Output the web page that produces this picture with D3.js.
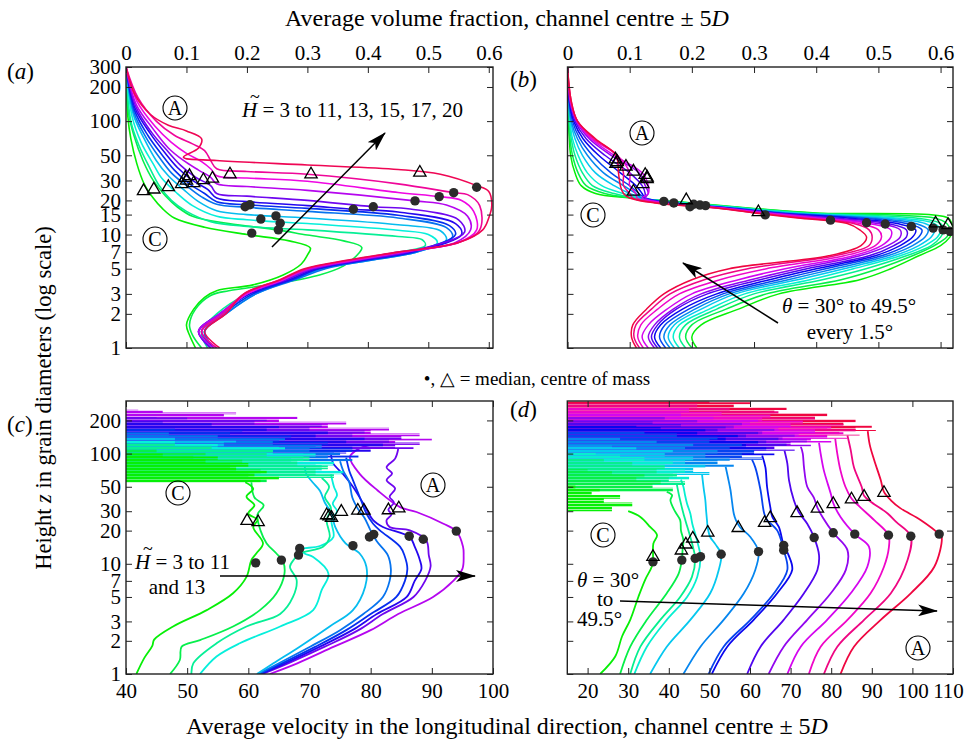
<!DOCTYPE html>
<html>
<head>
<meta charset="utf-8">
<script src="https://cdn.jsdelivr.net/npm/d3@7"></script>
<style>
  body { margin: 0; background: #fff; }
</style>
</head>
<body>
<svg id="fig" width="966" height="741"></svg>
<script>
// ---------- data ----------
// (a) volume fraction vs height, H~ = 3..11,13,15,17,20   points are [phi, z]
var aH = [3, 4, 5, 6, 7, 8, 9, 10, 11, 13, 15, 17, 20];
var aProfiles = [
  [[0.115,1],[0.105,1.3],[0.1,1.6],[0.112,2.2],[0.13,2.8],[0.15,3.2],[0.21,3.6],[0.26,4.4],[0.29,5.5],[0.3,6.6],[0.305,7.6],[0.27,8.8],[0.2,10],[0.13,11.6],[0.08,14],[0.06,17],[0.045,21],[0.03,28],[0.018,42],[0.008,70],[0.003,110],[0,300]],
  [[0.125,1],[0.11,1.3],[0.105,1.6],[0.115,2.2],[0.14,2.9],[0.17,3.2],[0.25,3.7],[0.32,4.4],[0.36,5.3],[0.38,6.4],[0.39,7.7],[0.36,8.8],[0.3,9.9],[0.25,11],[0.17,12.5],[0.11,14.5],[0.085,17.5],[0.065,22],[0.045,30],[0.028,45],[0.013,75],[0.004,120],[0,300]],
  [[0.135,1],[0.125,1.4],[0.15,2],[0.2,3],[0.26,4],[0.31,5],[0.38,6],[0.45,7],[0.495,8],[0.49,9],[0.45,9.6],[0.3,11],[0.2,11.8],[0.14,13],[0.1,16],[0.075,20],[0.055,27],[0.04,38],[0.022,60],[0.008,100],[0,300]],
  [[0.14,1],[0.13,1.4],[0.16,2],[0.21,3],[0.27,4],[0.32,5],[0.4,6],[0.47,7],[0.515,8.5],[0.5,10],[0.45,10.9],[0.3,12.5],[0.2,13.5],[0.15,14.5],[0.11,18],[0.085,23],[0.06,31],[0.045,42],[0.025,65],[0.01,110],[0,300]],
  [[0.145,1],[0.13,1.4],[0.165,2],[0.215,3],[0.275,4],[0.325,5],[0.41,6],[0.48,7],[0.53,9],[0.52,10.8],[0.45,12.2],[0.3,14],[0.2,15],[0.15,16.2],[0.12,19.5],[0.095,25],[0.07,33],[0.05,45],[0.03,70],[0.012,115],[0,300]],
  [[0.145,1],[0.13,1.4],[0.165,2],[0.215,3],[0.28,4],[0.33,5],[0.41,6],[0.48,7],[0.54,9.5],[0.53,11.5],[0.45,14],[0.3,16],[0.2,17.4],[0.15,18.5],[0.125,21.5],[0.1,27],[0.075,35],[0.055,48],[0.033,72],[0.013,120],[0,300]],
  [[0.145,1],[0.125,1.4],[0.16,2],[0.21,3],[0.275,4],[0.32,5],[0.4,6],[0.475,7],[0.545,10],[0.535,12],[0.45,14.8],[0.3,17],[0.2,18.3],[0.15,19.5],[0.13,23],[0.105,28],[0.08,37],[0.06,50],[0.036,75],[0.014,125],[0,300]],
  [[0.14,1],[0.12,1.4],[0.155,2],[0.205,3],[0.27,4],[0.315,5],[0.395,6],[0.47,7],[0.555,10],[0.545,12.5],[0.45,15.8],[0.376,16.7],[0.3,18],[0.2,19.5],[0.15,21],[0.135,25],[0.11,30],[0.085,39],[0.065,52],[0.04,78],[0.015,130],[0,300]],
  [[0.14,1],[0.12,1.4],[0.155,2],[0.2,3],[0.265,4],[0.31,5],[0.39,6],[0.465,7],[0.56,10.5],[0.55,13.5],[0.47,16.8],[0.409,17.6],[0.3,20],[0.2,21.8],[0.15,23],[0.14,27],[0.115,32],[0.09,41],[0.068,55],[0.042,80],[0.016,135],[0,300]],
  [[0.145,1],[0.12,1.4],[0.155,2],[0.2,3],[0.26,4],[0.305,5],[0.385,6],[0.46,7],[0.545,8.5],[0.57,11],[0.565,14.5],[0.53,18.2],[0.478,19.8],[0.3,24.5],[0.2,26.5],[0.15,28],[0.14,32],[0.12,37],[0.095,45],[0.07,58],[0.045,85],[0.017,140],[0,300]],
  [[0.15,1],[0.125,1.4],[0.16,2],[0.2,3],[0.26,4],[0.3,5],[0.38,6],[0.455,7],[0.55,8.5],[0.58,11],[0.575,16],[0.555,20],[0.518,21.6],[0.45,23.5],[0.3,29.5],[0.2,31.5],[0.15,33],[0.14,38],[0.125,44],[0.1,52],[0.075,65],[0.048,90],[0.018,150],[0,300]],
  [[0.15,1],[0.125,1.4],[0.16,2],[0.195,3],[0.255,4],[0.3,5],[0.375,6],[0.45,7],[0.55,8.5],[0.585,11],[0.585,18],[0.565,22.5],[0.542,23.4],[0.45,28],[0.3,34],[0.2,36],[0.15,38],[0.14,45],[0.13,55],[0.11,63],[0.08,75],[0.05,100],[0.02,160],[0,300]],
  [[0.155,1],[0.13,1.4],[0.165,2],[0.195,3],[0.255,4],[0.295,5],[0.37,6],[0.45,7],[0.55,8.5],[0.59,11],[0.6,14],[0.605,18],[0.6,24],[0.58,27],[0.52,34],[0.45,37.5],[0.3,41],[0.15,45],[0.095,48],[0.12,58],[0.125,70],[0.1,82],[0.07,92],[0.04,115],[0.015,170],[0,300]]
];
var aMedian = [[0.208,10.3],[0.252,11.0],[0.255,12.6],[0.223,13.7],[0.248,14.6],[0.376,16.7],[0.197,17.6],[0.409,17.6],[0.205,18.3],[0.478,19.8],[0.518,21.6],[0.542,23.4],[0.58,26.1]];
var aCentre = [[0.029,24.7],[0.046,25.5],[0.07,26.8],[0.092,28.4],[0.098,32.3],[0.105,33.5],[0.1,30.5],[0.112,29.0],[0.128,30.8],[0.143,31.8],[0.172,34.6],[0.306,34.6],[0.486,35.9]];

// (b) volume fraction vs height, theta = 30..49.5 every 1.5; one row per height level, one column per angle
var bTheta = [30, 31.5, 33, 34.5, 36, 37.5, 39, 40.5, 42, 43.5, 45, 46.5, 48, 49.5];
var bZ = [1, 1.25, 1.6, 2.2, 3, 4, 5, 6.5, 8, 9.5, 11, 12.5, 14, 15.5, 17, 19, 21, 23, 27, 35, 50, 70, 100, 150, 300];
var bRows = [
  [.208,.2,.19,.18,.172,.165,.158,.15,.145,.14,.13,.122,.116,.111],
  [.2,.19,.18,.17,.162,.155,.148,.14,.135,.13,.12,.113,.107,.103],
  [.215,.2,.19,.18,.172,.165,.157,.15,.145,.14,.13,.118,.11,.105],
  [.275,.255,.24,.228,.215,.205,.195,.185,.175,.17,.16,.145,.135,.127],
  [.34,.32,.3,.285,.27,.26,.25,.24,.225,.215,.2,.18,.165,.155],
  [.47,.44,.41,.39,.37,.355,.34,.325,.31,.295,.275,.245,.22,.2],
  [.52,.5,.48,.46,.445,.43,.415,.4,.385,.37,.35,.32,.29,.26],
  [.565,.555,.545,.535,.525,.515,.505,.495,.485,.47,.46,.445,.43,.42],
  [.6,.59,.585,.575,.565,.555,.545,.535,.525,.515,.505,.495,.485,.472],
  [.615,.61,.6,.595,.585,.575,.565,.555,.545,.535,.52,.505,.49,.481],
  [.62,.615,.605,.6,.59,.58,.57,.56,.545,.535,.52,.5,.485,.47],
  [.618,.61,.6,.59,.575,.56,.545,.53,.515,.5,.485,.47,.46,.45],
  [.612,.59,.56,.53,.51,.49,.47,.45,.43,.415,.4,.39,.38,.37],
  [.4,.39,.38,.37,.36,.35,.34,.335,.33,.325,.32,.31,.305,.3],
  [.3,.295,.29,.285,.28,.275,.27,.265,.26,.258,.255,.252,.248,.245],
  [.2,.195,.19,.185,.18,.175,.17,.165,.16,.158,.155,.15,.145,.14],
  [.1,.105,.11,.115,.12,.12,.125,.125,.125,.125,.12,.112,.105,.1],
  [.045,.06,.075,.09,.1,.11,.115,.12,.125,.13,.13,.11,.1,.09],
  [.022,.03,.04,.055,.075,.09,.1,.11,.12,.125,.13,.1,.09,.085],
  [.012,.017,.024,.032,.045,.058,.07,.085,.1,.115,.12,.1,.09,.082],
  [.005,.008,.012,.017,.024,.032,.04,.05,.06,.07,.075,.08,.08,.078],
  [.003,.004,.006,.008,.012,.016,.02,.025,.03,.035,.038,.04,.043,.045],
  [.0015,.002,.003,.004,.005,.006,.008,.01,.012,.014,.015,.016,.016,.016],
  [.0005,.001,.001,.0015,.002,.002,.003,.003,.004,.004,.005,.005,.006,.006],
  [0,0,0,0,0,0,0,0,0,0,0,0,0,0]
];
var bMedian = [[0.155,19.6],[0.171,19.0],[0.197,17.6],[0.203,18.5],[0.213,18.2],[0.222,18.0],[0.318,14.9],[0.423,13.4],[0.481,12.7],[0.511,12.4],[0.553,11.8],[0.588,11.4],[0.604,11.0],[0.615,10.7]];
var bCentre = [[0.077,47],[0.078,43],[0.08,44.5],[0.094,40.5],[0.106,36.7],[0.125,34.3],[0.128,31.5],[0.128,32.5],[0.121,28.5],[0.106,24.4],[0.191,20.5],[0.307,16.1],[0.592,12.8],[0.612,12.4]];

// (c) velocity vs height, H~ = 3..11 and 13   points are [u, z]; above cFuzz the profile flickers
var cH = [3, 4, 5, 6, 7, 8, 9, 10, 11, 13];
var cFuzz = [55, 55, 60, 65, 78, 85, 92, 100, 110, 120];
var cProfiles = [
  [[41.7,1],[43,1.4],[44.3,1.8],[44.6,2.05],[47.7,2.7],[53.2,3.8],[57.5,5.4],[59.7,7.6],[60.5,10.8],[61.3,12.4],[62.4,15.3],[60.8,21.6],[61.5,25],[60,28.6],[61,34],[59.7,40.6],[60.8,48],[59.5,55],[62,58],[65,62],[61,66],[63,70],[58,76],[60,82],[53,88],[55,94],[46,100]],
  [[47.2,1],[48.8,1.34],[49.1,1.77],[52.1,2.03],[57.5,2.7],[61.9,3.8],[64.6,5.4],[65.9,8.1],[65.7,10.4],[64.6,12.4],[63,15.3],[62,20],[61.5,28],[62.5,34],[61,40],[60.5,55],[63,60],[60,66],[62,72],[57,80],[59,88],[51,96],[53,102],[45,110]],
  [[50.7,1],[51,1.25],[54.8,1.9],[59.7,2.7],[65.2,3.5],[67.3,5],[67.9,7.1],[66.8,9.4],[67.5,11],[68.4,12.4],[72.2,14.3],[73.3,17.5],[72.8,24.9],[73.5,32],[72.5,40.6],[73.2,50],[72,60],[74,65],[71,72],[73,78],[68,86],[70,94],[63,102],[64,110],[54,118],[48,124]],
  [[52.1,1],[54.8,1.44],[58.6,1.9],[65.2,2.7],[70.6,3.8],[72,5.8],[73.1,8.1],[70.6,11.5],[69.2,12.4],[68.6,13.5],[71.7,14.5],[73.9,17.5],[73.6,24.9],[74.5,30],[73.8,35],[74.5,42],[74,50],[73.5,65],[75.5,70],[72,78],[74,85],[69,94],[71,100],[64,108],[66,114],[55,122],[48,130]],
  [[61.4,1],[64.1,1.25],[68.4,1.77],[73.3,2.7],[77.1,3.8],[79.1,6.2],[79.3,9.4],[78.2,12.4],[75.9,15.3],[74.2,21.6],[73.6,28.6],[72.5,36],[71.7,46],[70.5,55],[69.5,65],[69.2,78],[71,84],[67,92],[69,100],[63,108],[65,116],[56,126],[58,132],[48,140]],
  [[61.6,1],[65,1.25],[70.1,1.77],[75,2.5],[78.8,3.5],[82,5],[83.1,7],[83.3,9],[82.8,12],[81,16],[80,20],[79,26],[78,31],[77,40],[76.5,55],[75.5,70],[75,85],[77,90],[73,97],[75,104],[70,112],[72,120],[64,130],[66,138],[55,147],[47,155]],
  [[61.8,1],[65.5,1.25],[71,1.77],[76,2.5],[80,3.5],[84.2,5],[85.6,7],[86,9],[85.5,12],[84.8,14.3],[81.5,20.1],[80.4,23.1],[79.3,28.6],[78.2,40.6],[77.1,57.5],[76.5,70],[76,92],[78,97],[74,104],[77,112],[71,120],[73,128],[65,138],[67,146],[57,156],[59,162],[48,170]],
  [[62,1],[66,1.25],[71.7,1.77],[77,2.5],[81,3.5],[85.9,5],[87.2,7],[88.3,9],[88,11],[87.2,14.3],[86.4,17.5],[82,21.6],[80.4,24.9],[78.8,35.2],[77.1,50],[75.5,65],[73.9,81],[73.5,100],[76,104],[80,110],[77,116],[82,124],[76,132],[79,140],[71,150],[73,160],[63,170],[65,178],[54,188],[46,195]],
  [[62.3,1],[66.5,1.25],[72.5,1.77],[78,2.5],[82,3.5],[87,5],[88.9,7],[89.8,9.5],[89.5,12],[89.1,16.3],[86.4,20.1],[83.1,21.6],[82.6,24.9],[83.4,28],[82.9,31],[83.8,36],[83.1,40.6],[84,48],[82.6,57.5],[83.5,66],[82.6,75],[84,90],[84.5,110],[87,114],[84,120],[88,126],[83,134],[85,142],[77,152],[79,162],[70,174],[72,184],[61,196],[63,204],[50,212],[45,215]],
  [[63.5,1],[68,1.25],[74,1.77],[80,2.5],[84.5,3.5],[90.2,5],[93.5,7],[95,9],[95.2,12],[95.1,14.3],[94,19.8],[91.9,23.1],[87.5,29.5],[84.8,32.7],[81.1,46.5],[78.2,65.5],[76.6,93],[78,110],[80,120],[88,124],[84,130],[90,136],[85,144],[88,152],[80,162],[83,172],[73,184],[76,194],[65,206],[68,216],[56,228],[58,236],[46,246],[42,250]]
];
var cMedian = [[61.2,10.2],[65.4,10.8],[68.2,12.0],[68.4,13.8],[77.1,14.6],[79.8,17.5],[80.5,18.5],[86.3,17.8],[88.6,16.7],[94,19.8]];
var cCentre = [[59.8,25.1],[61.6,24.4],[72.8,28.2],[73.2,27.5],[73.6,26.7],[75.2,30.3],[77.9,31.0],[78.9,31.0],[82.9,31.3],[84.6,32.5]];

// (d) velocity vs height, theta = 30..49.5 every 1.5
var dTheta = [30, 31.5, 33, 34.5, 36, 37.5, 39, 40.5, 42, 43.5, 45, 46.5, 48, 49.5];
var dFuzz = [30, 45, 52, 58, 64, 76, 88, 96, 106, 116, 126, 136, 146, 160];
var dProfiles = [
  [[23.1,1],[26.8,1.44],[28.5,2.2],[30.5,3.1],[32.5,5],[34.2,7.2],[35.8,9.4],[36.1,11],[36.2,15.3],[37.1,18.2],[35.4,21.6],[33,26.6],[30,30],[26,33],[31,36],[24,39],[28,42],[21,45],[23,48],[17,52]],
  [[28,1],[30.5,1.77],[34.6,3.1],[39.5,5.4],[42.4,8.1],[43.2,10.8],[43.4,13.5],[43.6,16.3],[43,20],[42.8,24.9],[41.5,30],[40.4,37.7],[40.8,42],[39.5,45],[41,49],[36,53],[38,57],[32,61],[34,65],[26,69],[20,72]],
  [[30.5,1],[33,1.77],[37.9,3.1],[42.8,5],[45.7,7.6],[46.5,11.2],[46,14],[45.3,17.5],[44.5,22],[43.6,28.6],[43,35],[42.5,42],[42,52],[44,56],[40,61],[42,66],[37,72],[39,78],[31,84],[24,90]],
  [[31.5,1],[34.6,1.77],[39.5,3.1],[44.5,5],[47,7.6],[47.8,11.6],[47.2,15],[46.5,18.7],[45.8,23],[45.3,28.6],[44.5,35],[44,42],[43.6,50],[43,58],[45,62],[41,67],[44,73],[39,80],[41,86],[34,93],[28,98],[22,102]],
  [[35.4,1],[39.5,1.77],[45.3,3.1],[50.2,5.4],[52.3,8.8],[52.9,12.2],[51.5,15],[50.2,17.5],[49.6,21],[49.4,24.9],[49.2,30],[49,37.7],[48.6,48],[48.2,64],[50,68],[46,74],[49,80],[44,87],[46,94],[39,102],[41,108],[32,114],[26,118]],
  [[43.6,1],[47.8,1.77],[53.5,3.1],[58.5,5.4],[61.3,8.8],[62.1,12.9],[60.1,17.5],[57.5,21.6],[56.5,25],[56,28.6],[55.6,36],[55.2,46.5],[54.6,60],[54,76],[56,80],[52,86],[55,92],[49,100],[52,108],[44,116],[46,124],[37,132],[28,140]],
  [[49.8,1],[53.5,1.77],[60.1,3.1],[65.9,5.4],[69.2,8.8],[68.3,13.3],[66.7,20.1],[64.2,25],[63.5,28.6],[62.6,46.5],[61.3,75],[60.5,88],[63,92],[58,100],[61,108],[55,116],[58,124],[50,134],[52,142],[42,152],[34,160]],
  [[50.6,1],[54.4,1.77],[60.9,3.1],[66.7,5.4],[70.4,8.8],[69.5,12],[68.3,14.7],[67.1,21.6],[65.5,26.6],[65,32.7],[64.2,50],[63.8,75],[63,96],[66,100],[61,107],[64,114],[59,122],[62,130],[54,140],[57,148],[47,158],[49,166],[38,174],[32,180]],
  [[59.3,1],[62.6,1.77],[68.3,3.1],[73.3,5.4],[76.6,8.8],[77,12],[75.8,17.3],[74.1,23.1],[72,29.5],[70.8,37.7],[69.6,57.5],[69.2,81],[68.5,106],[71,110],[66,117],[69,124],[64,132],[67,140],[59,150],[62,158],[52,168],[54,176],[43,186],[36,195]],
  [[64.6,1],[68.3,1.77],[74.1,3.1],[79.9,5.4],[83.6,8.8],[84,13.3],[80.5,19.1],[78,26],[76.6,32.4],[75.7,40],[74.1,50],[73.3,75],[73,100],[72.5,116],[75,120],[70,127],[74,134],[68,142],[71,150],[63,160],[66,168],[56,180],[58,190],[47,202],[39,215]],
  [[69.2,1],[72.5,1.77],[79,3.1],[84.8,5.4],[88.9,9.4],[89.3,14.3],[85.8,18.6],[82.3,26.6],[80.5,35.6],[79.9,43.2],[78.2,70],[77.4,100],[77,126],[80,130],[75,137],[79,144],[72,153],[76,162],[67,173],[70,182],[60,194],[62,204],[51,216],[43,235]],
  [[74.5,1],[77.4,1.77],[84,3.1],[89.7,5.4],[93,9.4],[94.2,14],[94.1,18.2],[90.6,24.9],[87,33],[85,39.2],[83.5,50],[82.3,70],[81.5,100],[81,136],[84,140],[79,148],[83,156],[76,166],[80,176],[70,188],[73,198],[63,212],[65,224],[53,238],[45,260]],
  [[78.2,1],[81.5,1.77],[88.1,3.1],[94.7,5.4],[98.8,10.8],[99.6,17.8],[96,24],[93.9,28.6],[90,36],[88.1,41.4],[87.5,50],[85.6,75],[84.8,108],[84,146],[87,150],[82,158],[86,166],[79,176],[83,186],[73,200],[76,212],[65,228],[67,242],[55,260],[47,285]],
  [[82.3,1],[85.6,1.77],[92.2,3.1],[99.6,5.4],[105.4,9.4],[107.2,17.5],[106.6,18.6],[102.1,24.9],[97,32],[94.7,37.7],[93,44.9],[92.2,57.5],[90.6,87],[89.5,120],[89,160],[91,164],[86,172],[90,180],[83,192],[86,204],[76,218],[79,232],[66,248],[69,262],[56,280],[60,292],[50,300]]
];
var dMedian = [[36.1,10.4],[43.2,10.8],[46.5,11.2],[47.8,11.6],[52.9,12.2],[62.1,12.9],[68.3,13.3],[68.3,14.7],[75.8,17.3],[80.5,19.1],[85.8,18.6],[94.1,18.2],[99.6,17.8],[106.6,18.6]];
var dCentre = [[36.1,11.8],[43.1,13.5],[44.2,15.3],[45.9,17.3],[49.6,19.6],[57.1,21.6],[63.6,24.0],[65,26.6],[71.6,29.5],[76.6,32.4],[80.5,35.6],[85,39.2],[88.1,41.4],[93,44.9]];

// tick values
var phiTicks = [0, 0.1, 0.2, 0.3, 0.4, 0.5, 0.6];
var zTicksTop = [1, 2, 3, 5, 7, 10, 15, 20, 30, 50, 100, 200, 300];
var zTicksBottom = [1, 2, 3, 5, 7, 10, 20, 30, 50, 100, 200];
var uTicksC = [40, 50, 60, 70, 80, 90, 100];
var uTicksD = [20, 30, 40, 50, 60, 70, 80, 90, 100, 110];
var uTicksDTop = [20, 40, 60, 80, 100];

// ---------- drawing ----------
var serif = '"Liberation Serif","Times New Roman",serif';
var svg = d3.select('#fig').attr('font-family', serif);
var defs = svg.append('defs');

defs.append('marker').attr('id', 'arrow')
  .attr('viewBox', '0 0 20 12').attr('refX', 19).attr('refY', 6)
  .attr('markerWidth', 20).attr('markerHeight', 12)
  .attr('markerUnits', 'userSpaceOnUse').attr('orient', 'auto')
  .attr('preserveAspectRatio', 'none')
  .append('path').attr('d', 'M0,0 L20,6 L0,12 L5,6 Z').attr('fill', '#000');

// horizontal streaks for the flickering surface layer
defs.append('pattern').attr('id', 'streaks').attr('patternUnits', 'userSpaceOnUse')
  .attr('width', 8).attr('height', 3)
  .append('rect').attr('width', 8).attr('height', 2.4).attr('fill', '#fff');
defs.append('mask').attr('id', 'streakMask').attr('maskUnits', 'userSpaceOnUse')
  .attr('x', 0).attr('y', 0).attr('width', 966).attr('height', 741)
  .append('rect').attr('width', 966).attr('height', 741).attr('fill', 'url(#streaks)');

// hue runs green -> cyan -> blue -> purple -> pink
var hue13 = [120, 138, 157, 175, 193, 212, 230, 248, 267, 285, 303, 322, 340];
var hue14 = [120, 137, 155, 172, 190, 207, 224, 241, 259, 276, 293, 310, 328, 345];
function col(h) { return d3.hsl(h, 0.95, 0.48).formatHex(); }

// scales
var xa = d3.scaleLinear().domain([0, 0.607]).range([126, 493]);
var xb = d3.scaleLinear().domain([0, 0.62]).range([567.5, 953]);
var xc = d3.scaleLinear().domain([40, 100]).range([126, 493]);
var xd = d3.scaleLinear().domain([15, 110]).range([567.3, 953]);
var yTop = d3.scaleLog().domain([1, 300]).range([348, 67]);
var yBot = d3.scaleLog().domain([1, 300]).range([674, 401]);

function clip(id, x, y) {
  defs.append('clipPath').attr('id', id).append('rect')
    .attr('x', x.range()[0]).attr('y', y.range()[1])
    .attr('width', x.range()[1] - x.range()[0])
    .attr('height', y.range()[0] - y.range()[1]);
  return svg.append('g').attr('clip-path', 'url(#' + id + ')');
}

function frame(x, y, o) {
  var g = svg.append('g');
  var x0 = x.range()[0], x1 = x.range()[1], yT = y.range()[1], yB = y.range()[0];
  var fmt = o.xFmt || function(d) { return d; };
  g.append('g').attr('transform', 'translate(0,' + yT + ')')
    .call(d3.axisTop(x).tickValues(o.xTop).tickSize(-6).tickPadding(7).tickFormat(o.topLab ? fmt : ''));
  g.append('g').attr('class', 'xbot').attr('transform', 'translate(0,' + yB + ')')
    .call(d3.axisBottom(x).tickValues(o.xBottom).tickSize(-6).tickPadding(9).tickFormat(o.botLab ? fmt : ''));
  g.append('g').attr('transform', 'translate(' + x0 + ',0)')
    .call(d3.axisLeft(y).tickValues(o.yTicks).tickSize(-6).tickPadding(5).tickFormat(o.leftLab ? d3.format('d') : ''));
  g.append('g').attr('transform', 'translate(' + x1 + ',0)')
    .call(d3.axisRight(y).tickValues(o.yTicks).tickSize(-6).tickFormat(''));
  g.selectAll('.domain').remove();
  g.selectAll('g').attr('font-family', serif).attr('font-size', 21);
  g.selectAll('.tick line').attr('stroke', '#222').attr('stroke-width', 1);
  g.selectAll('.tick text').attr('fill', '#000').attr('font-size', 21).attr('font-family', serif);
  g.append('rect').attr('x', x0).attr('y', yT).attr('width', x1 - x0).attr('height', yB - yT)
    .attr('fill', 'none').attr('stroke', '#222').attr('stroke-width', 1.4);
  return g;
}

var smooth = d3.curveCatmullRom.alpha(0.5);

function markers(g, x, y, med, cen) {
  g.selectAll('circle.med').data(med).enter().append('circle')
    .attr('cx', function(d) { return x(d[0]); }).attr('cy', function(d) { return y(d[1]); })
    .attr('r', 4.7).attr('fill', '#2b2b2b');
  g.selectAll('path.cen').data(cen).enter().append('path')
    .attr('d', d3.symbol(d3.symbolTriangle, 66))
    .attr('transform', function(d) { return 'translate(' + x(d[0]) + ',' + (y(d[1]) + 1) + ')'; })
    .attr('fill', 'none').attr('stroke', '#000').attr('stroke-width', 1.3);
}

// panel (a)
var ga = clip('clipA', xa, yTop);
var lineA = d3.line().x(function(d) { return xa(d[0]); }).y(function(d) { return yTop(d[1]); }).curve(smooth);
ga.selectAll('path.prof').data(aProfiles).enter().append('path')
  .attr('d', lineA).attr('fill', 'none')
  .attr('stroke', function(d, i) { return col(hue13[i]); }).attr('stroke-width', 1.6);
markers(ga, xa, yTop, aMedian, aCentre);
var phiFmt = function(d) { return d === 0 ? '0' : d3.format('.1f')(d); };
frame(xa, yTop, { xTop: phiTicks, xBottom: phiTicks, yTicks: zTicksTop, topLab: true, leftLab: true, xFmt: phiFmt });

// panel (b)
var bProfiles = bTheta.map(function(t, i) { return bZ.map(function(z, k) { return [bRows[k][i], z]; }); });
var gb = clip('clipB', xb, yTop);
var lineB = d3.line().x(function(d) { return xb(d[0]); }).y(function(d) { return yTop(d[1]); }).curve(smooth);
gb.selectAll('path.prof').data(bProfiles).enter().append('path')
  .attr('d', lineB).attr('fill', 'none')
  .attr('stroke', function(d, i) { return col(hue14[i]); }).attr('stroke-width', 1.5);
markers(gb, xb, yTop, bMedian, bCentre);
frame(xb, yTop, { xTop: phiTicks, xBottom: phiTicks, yTicks: zTicksTop, topLab: true, leftLab: false, xFmt: phiFmt });

// panels (c) and (d): smooth profile below the surface, flickering band above
function velocityPanel(id, x, profiles, fuzz, hues, med, cen) {
  var g = clip(id, x, yBot);
  var left = x.range()[0] - 2;
  var line = d3.line().x(function(d) { return x(d[0]); }).y(function(d) { return yBot(d[1]); }).curve(smooth);
  var band = d3.area().y(function(d) { return yBot(d[1]); })
    .x0(left).x1(function(d) { return x(d[0]); }).curve(d3.curveStepAfter);
  for (var i = profiles.length - 1; i >= 0; i--) {
    var c = col(hues[i]);
    var lower = profiles[i].filter(function(p) { return p[1] <= fuzz[i]; });
    var upper = profiles[i].filter(function(p) { return p[1] >= fuzz[i]; });
    g.append('path').attr('d', band(upper)).attr('fill', c).attr('mask', 'url(#streakMask)');
    g.append('path').attr('d', line(lower)).attr('fill', 'none').attr('stroke', c).attr('stroke-width', 1.8);
  }
  markers(g, x, yBot, med, cen);
}
velocityPanel('clipC', xc, cProfiles, cFuzz, hue13, cMedian, cCentre);
frame(xc, yBot, { xTop: uTicksC, xBottom: uTicksC, yTicks: zTicksBottom, botLab: true, leftLab: true });
velocityPanel('clipD', xd, dProfiles, dFuzz, hue14, dMedian, dCentre);
var fd = frame(xd, yBot, { xTop: uTicksDTop, xBottom: uTicksD, yTicks: zTicksBottom, botLab: true, leftLab: false });
fd.selectAll('.xbot .tick text').filter(function(d) { return d === 110; }).attr('dx', -5);

// ---------- text ----------
function txt(x, y, size, parts, anchor) {
  var t = svg.append('text').attr('x', x).attr('y', y).attr('font-size', size)
    .attr('text-anchor', anchor || 'start').attr('fill', '#000');
  parts.forEach(function(p) {
    var s = t.append('tspan').text(p[0]);
    if (p[1]) s.attr('font-style', 'italic');
  });
  return t;
}

txt(507, 26, 24, [['Average volume fraction, channel centre \u00b1 5'], ['D', 1]], 'middle');
txt(507, 734, 24, [['Average velocity in the longitudinal direction, channel centre \u00b1 5'], ['D', 1]], 'middle');
txt(0, 0, 22.5, [['Height '], ['z', 1], [' in grain diameters (log scale)']], 'middle')
  .attr('transform', 'translate(51,398) rotate(-90)');
txt(537, 385, 19, [['\u2022, \u25b3 = median, centre of mass']], 'middle');

txt(7, 79, 23, [['('], ['a', 1], [')']]);
txt(510, 87, 23, [['('], ['b', 1], [')']]);
txt(7, 432, 23, [['('], ['c', 1], [')']]);
txt(510, 417, 23, [['('], ['d', 1], [')']]);

function circled(x, y, letter) {
  svg.append('circle').attr('cx', x).attr('cy', y).attr('r', 12)
    .attr('fill', 'none').attr('stroke', '#000').attr('stroke-width', 1.1);
  txt(x, y + 7, 20, [[letter]], 'middle');
}
circled(175, 108, 'A');
circled(155, 239, 'C');
circled(642, 133, 'A');
circled(593, 215, 'C');
circled(178, 493, 'C');
circled(433, 485, 'A');
circled(603, 535, 'C');
circled(918, 648, 'A');

// (a) annotation
txt(242, 117, 21, [['H', 1], [' = 3 to 11, 13, 15, 17, 20']]);
txt(250, 103, 18, [['~']]);
svg.append('line').attr('x1', 272).attr('y1', 247).attr('x2', 385).attr('y2', 133)
  .attr('stroke', '#000').attr('stroke-width', 1.5).attr('marker-end', 'url(#arrow)');

// (b) annotation
txt(782, 313, 21, [['\u03b8', 1], [' = 30\u00b0 to 49.5\u00b0']]);
txt(850, 339, 21, [['every 1.5\u00b0']], 'middle');
svg.append('line').attr('x1', 778).attr('y1', 323).attr('x2', 683).attr('y2', 263)
  .attr('stroke', '#000').attr('stroke-width', 1.5).attr('marker-end', 'url(#arrow)');

// (c) annotation
txt(135, 569, 21, [['H', 1], [' = 3 to 11']]);
txt(143, 555, 18, [['~']]);
txt(177, 594, 21, [['and 13']], 'middle');
svg.append('line').attr('x1', 220).attr('y1', 576).attr('x2', 475).attr('y2', 576)
  .attr('stroke', '#000').attr('stroke-width', 1.5).attr('marker-end', 'url(#arrow)');

// (d) annotation
txt(577, 587, 21, [['\u03b8', 1], [' = 30\u00b0']]);
txt(597, 606, 21, [['to']]);
txt(577, 626, 21, [['49.5\u00b0']]);
svg.append('line').attr('x1', 620).attr('y1', 601).attr('x2', 937).attr('y2', 611)
  .attr('stroke', '#000').attr('stroke-width', 1.5).attr('marker-end', 'url(#arrow)');
</script>
</body>
</html>
